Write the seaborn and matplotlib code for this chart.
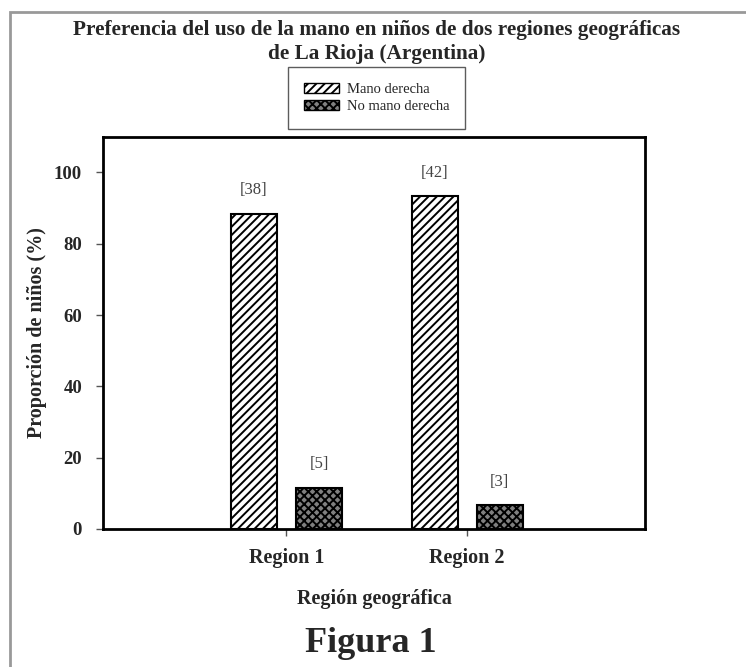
import pandas as pd
import numpy as np
import seaborn as sns
import matplotlib.pyplot as plt
import matplotlib.patches as mpatches

regions = ['Region 1', 'Region 2']
groups = ['Mano derecha', 'No mano derecha']
pct_derecha = [88.4, 93.3]
pct_no_derecha = [11.6, 6.7]
n_derecha = [38, 42]
n_no_derecha = [5, 3]

df = pd.DataFrame({
    'region': regions * 2,
    'grupo': [groups[0]] * 2 + [groups[1]] * 2,
    'pct': pct_derecha + pct_no_derecha,
})

sns.set_style('white')
plt.rcParams['font.family'] = ['Liberation Serif', 'DejaVu Serif']
plt.rcParams['hatch.linewidth'] = 1.4

fig = plt.figure(figsize=(7.46, 6.67), dpi=100)
ax = fig.add_axes([0.138, 0.207, 0.727, 0.588])

sns.barplot(data=df, x='region', y='pct', hue='grupo', hue_order=groups,
            palette=['white', '#808080'], width=0.72, gap=0.29,
            edgecolor='black', linewidth=1.5, legend=False, ax=ax)

hatches = ['////', 'xxxx']
counts = [n_derecha, n_no_derecha]
for cont, h, n in zip(ax.containers, hatches, counts):
    for p in cont.patches:
        p.set_hatch(h)
    ax.bar_label(cont, labels=['[%d]' % v for v in n], padding=11,
                 fontsize=12, color='#444444')

ax.set_xlim(-1.015, 1.985)
ax.set_ylim(0, 110)
ax.set_yticks([0, 20, 40, 60, 80, 100])
for s in ax.spines.values():
    s.set_linewidth(2)
    s.set_color('black')
ax.tick_params(axis='both', direction='out', length=5, width=1,
               bottom=True, left=True, color='#555555')
ax.tick_params(axis='y', labelsize=13.5, pad=10)
ax.tick_params(axis='x', labelsize=14.5, pad=9)
for lbl in ax.get_xticklabels() + ax.get_yticklabels():
    lbl.set_fontweight('bold')
ax.set_xlabel('Región geográfica', fontsize=14.5, fontweight='bold', labelpad=15)
ax.set_ylabel('Proporción de niños (%)', fontsize=14.5, fontweight='bold', labelpad=5)

handles = [mpatches.Patch(facecolor=fc, edgecolor='black', hatch=h, label=g)
           for fc, h, g in zip(['white', '#808080'], hatches, groups)]
leg = fig.legend(handles=handles, loc='center', bbox_to_anchor=(0.505, 0.853),
                 fontsize=10.5, frameon=True, fancybox=False, edgecolor='#333333',
                 handlelength=2.4, handleheight=0.7, borderpad=1.1,
                 labelspacing=0.3, handletextpad=0.5)
leg.get_frame().set_linewidth(1)

fig.text(0.505, 0.955, 'Preferencia del uso de la mano en niños de dos regiones geográficas',
         ha='center', va='center', fontsize=15.3, fontweight='bold')
fig.text(0.505, 0.919, 'de La Rioja (Argentina)',
         ha='center', va='center', fontsize=15.3, fontweight='bold')
fig.text(0.497, 0.035, 'Figura 1', ha='center', va='center',
         fontsize=26, fontweight='bold')

fig.add_artist(mpatches.Rectangle((0.013, -0.1), 1.1, 1.082,
                                  transform=fig.transFigure, fill=False,
                                  edgecolor='#999999', linewidth=2))

fig.savefig('out.png', dpi=100)
